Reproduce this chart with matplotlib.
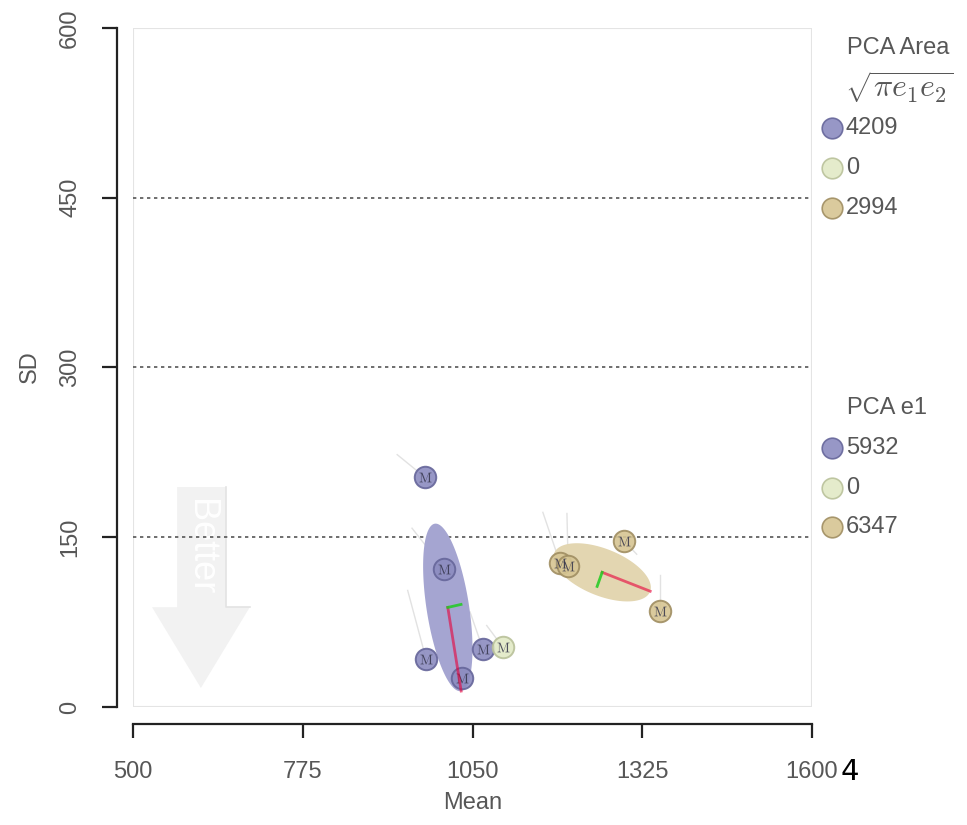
import numpy as np
import matplotlib.pyplot as plt
from matplotlib.patches import Polygon, Rectangle

plt.rcParams["font.family"] = ["Liberation Sans", "DejaVu Sans"]
plt.rcParams["mathtext.fontset"] = "cm"

# ── Data ──────────────────────────────────────────────────────────────────────
blue_mean      = [973, 1004, 975, 1033, 1067]
blue_sd        = [203, 122, 42, 26, 51]
blue_prev_mean = [928, 952, 945, np.nan, 1046]
blue_prev_sd   = [223, 158, 103, np.nan, 84]

green_mean      = [1099]
green_sd        = [53]
green_prev_mean = [1073]
green_prev_sd   = [72]

tan_mean      = [1192, 1205, 1295, 1354]
tan_sd        = [127, 125, 147, 85]
tan_prev_mean = [1164, 1203, 1316, 1354]
tan_prev_sd   = [172, 171, 135, 117]

pca_area = [4209, 0, 2994]          # sqrt(pi e1 e2), per group
pca_e1   = [5932, 0, 6347]

# ellipses only for blue and tan (green has a single point)
ell_mean     = [1010, 1260]
ell_sd       = [88, 119]
ell_e1_angle = [-73.7, -12.1]       # degrees in (Mean, SD) units
ell_e2_angle = [7.0, -123.0]
ell_groups   = [0, 2]

x_ticks = [500, 775, 1050, 1325, 1600]
y_ticks = [0, 150, 300, 450, 600]
grid_y  = [150, 300, 450]

# ── Style ─────────────────────────────────────────────────────────────────────
FILL  = ["#8c8cc0", "#e2e9c6", "#d6c593"]
EDGE  = ["#66669a", "#b9c19a", "#a08e62"]
ELL   = ["#a5a5d1", "#e2e9c6", "#e3d6b1"]
TXT   = "#575757"
W, H  = 967, 825

fig = plt.figure(figsize=(W / 100, H / 100), dpi=100)
ax = fig.add_axes([133 / W, (H - 707) / H, 679 / W, 679 / H])
ax.set_xlim(500, 1600)
ax.set_ylim(0, 600)

for s in ["top", "right"]:
    ax.spines[s].set_visible(False)
ax.spines["left"].set_position(("outward", 16 * 0.72))
ax.spines["bottom"].set_position(("outward", 17 * 0.72))
ax.spines["left"].set_bounds(0, 600)
ax.spines["bottom"].set_bounds(500, 1600)
for s in ["left", "bottom"]:
    ax.spines[s].set_color("#222222")
    ax.spines[s].set_linewidth(1.6)
ax.add_patch(Rectangle((0, 0), 1, 1, transform=ax.transAxes, fill=False,
                       edgecolor="#e4e4e4", lw=1.5, zorder=0.5))

ax.set_xticks(x_ticks)
ax.set_yticks(y_ticks)
ax.tick_params(axis="both", colors="#222222", labelcolor=TXT, labelsize=17, width=1.6)
ax.tick_params(axis="y", length=10.8, pad=15, labelrotation=90)
ax.tick_params(axis="x", length=10, pad=17)
for lab in ax.get_yticklabels():
    lab.set_va("center")

for g in grid_y:
    ax.axhline(g, color="#555555", lw=1.2, ls=(0, (2, 2.2)), zorder=2)

# "Better" arrow
arrow = [(0.065, 0.324), (0.137, 0.324), (0.137, 0.147), (0.172, 0.147),
         (0.100, 0.028), (0.028, 0.147), (0.065, 0.147)]
ax.add_patch(Polygon(arrow, closed=True, transform=ax.transAxes,
                     facecolor="#f2f2f2", edgecolor="none", zorder=1))
ax.plot([0.137, 0.137, 0.172], [0.324, 0.147, 0.147], transform=ax.transAxes,
        color="#e3e3e3", lw=1.2, zorder=1)
ax.text(0.100, 0.236, "Better", transform=ax.transAxes, rotation=-90,
        color="white", fontsize=26, ha="center", va="center", zorder=1.5)

# ellipses + PCA axes
t = np.linspace(0, 2 * np.pi, 200)
for k, gi in enumerate(ell_groups):
    l1 = np.sqrt(pca_e1[gi])
    l2 = np.sqrt(pca_area[gi] ** 2 / (np.pi * pca_e1[gi]))
    a1 = np.deg2rad(ell_e1_angle[k])
    a2 = np.deg2rad(ell_e2_angle[k])
    v1 = l1 * np.array([np.cos(a1), np.sin(a1)])
    v2 = l2 * np.array([np.cos(a2), np.sin(a2)])
    ex = ell_mean[k] + np.cos(t) * v1[0] + np.sin(t) * v2[0] * 1.1
    ey = ell_sd[k] + np.cos(t) * v1[1] + np.sin(t) * v2[1] * 1.1
    ax.fill(ex, ey, color=ELL[gi], lw=0, zorder=3)
    ax.plot([ell_mean[k], ell_mean[k] + v1[0]], [ell_sd[k], ell_sd[k] + v1[1]],
            color="#e8003a", alpha=0.6, lw=2, zorder=6)
    ax.plot([ell_mean[k], ell_mean[k] + v2[0] * 0.7], [ell_sd[k], ell_sd[k] + v2[1] * 0.7],
            color="#1fcc1f", alpha=0.85, lw=2, zorder=6)

# points with trails
series = [(blue_mean, blue_sd, blue_prev_mean, blue_prev_sd),
          (green_mean, green_sd, green_prev_mean, green_prev_sd),
          (tan_mean, tan_sd, tan_prev_mean, tan_prev_sd)]
for gi, (mx, sy, px, py) in enumerate(series):
    for x0, y0, x1, y1 in zip(px, py, mx, sy):
        if not np.isnan(x0):
            ax.plot([x0, x1], [y0, y1], color="#e2e2e2", lw=1, zorder=2.5)
    ax.scatter(mx, sy, s=240, color=FILL[gi], edgecolors=EDGE[gi],
               linewidths=1.4, alpha=0.9, zorder=5)
    ax.scatter(mx, sy, s=75, marker=r"$\mathrm{M}$", color="#34344a", linewidths=0,
               alpha=0.85, zorder=5.5)

ax.set_xlabel("Mean", fontsize=17, color=TXT, labelpad=6)
fig.text(30 / W, 1 - 367 / H, "SD", rotation=90, fontsize=17, color=TXT,
         ha="center", va="center")

# legend (pixel overlay)
lax = fig.add_axes([0, 0, 1, 1])
lax.set_xlim(0, W)
lax.set_ylim(H, 0)
lax.axis("off")
lax.text(847, 48, "PCA Area", fontsize=17, color=TXT, ha="left", va="center")
lax.text(845, 87, r"$\sqrt{\pi e_1 e_2}$", fontsize=23, color=TXT, ha="left", va="center")
lax.text(847, 408, "PCA e1", fontsize=17, color=TXT, ha="left", va="center")
for block, ys in [(pca_area, [128, 168, 208]), (pca_e1, [448, 488, 527])]:
    for gi, (val, yy) in enumerate(zip(block, ys)):
        lax.scatter([832], [yy], s=220, color=FILL[gi], edgecolors=EDGE[gi],
                    linewidths=1.2, alpha=0.9)
        lax.text(846, yy, str(val), fontsize=17, color=TXT, ha="left", va="center")

lax.text(850, 772, "4", fontsize=21, color="black", ha="center", va="center",
         family=["Liberation Sans Narrow", "DejaVu Sans"])

fig.savefig("out.png", dpi=100)
